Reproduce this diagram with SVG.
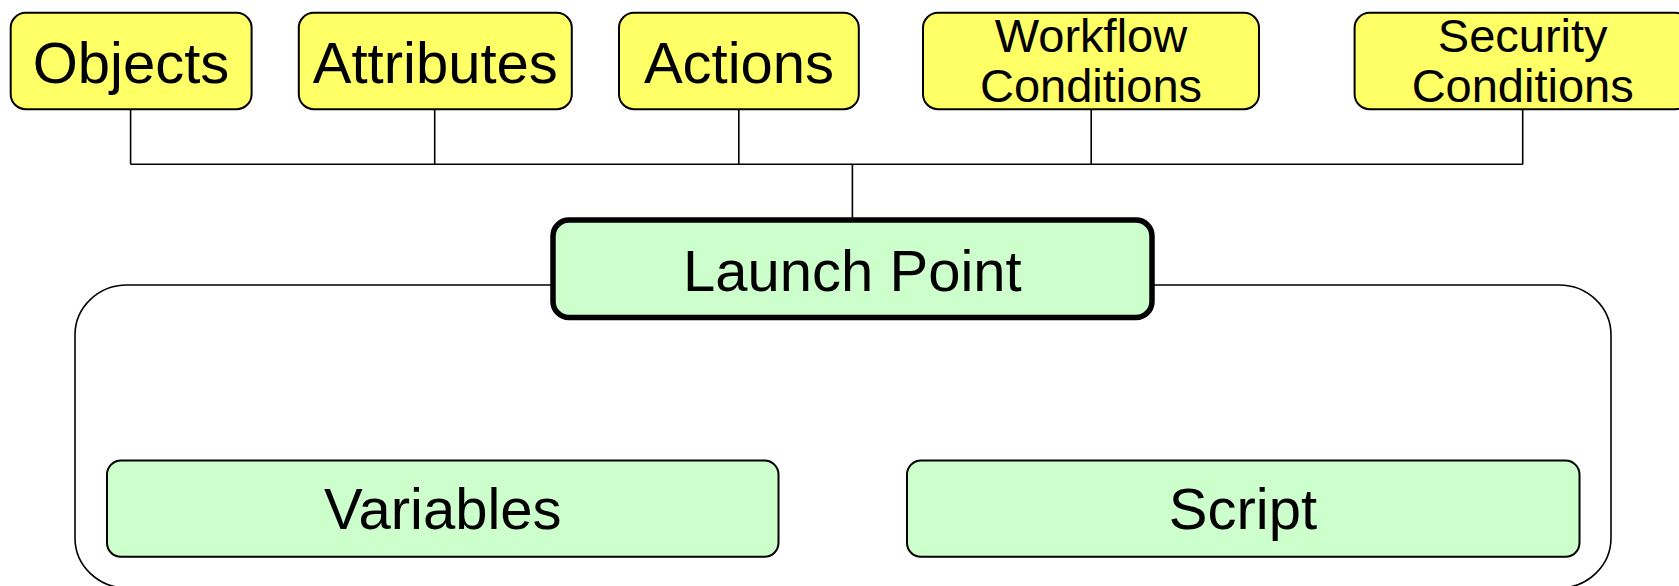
<svg xmlns="http://www.w3.org/2000/svg" width="1679" height="586" viewBox="0 0 1679 586">
<style>
.top{fill:#FFFF66;stroke:#000;stroke-width:2}
.grn{fill:#CCFFCC;stroke:#000;stroke-width:2}
.lp{fill:#CCFFCC;stroke:#000;stroke-width:5.5}
.t{font-family:"Liberation Sans",Arial,sans-serif;fill:#000;text-anchor:middle}
.big{font-size:58px}
.sm{font-size:47px}
.ln{fill:none;stroke:#000;stroke-width:1.6}
</style>
<rect width="1679" height="586" fill="#fff"/>
<g id="container">
<rect x="75" y="285" width="1536" height="303" rx="52" ry="50" class="ln"/>
</g>
<g id="connectors">
<path class="ln" d="M130.6 109V164.3M434.7 109V164.3M738.8 109V164.3M1091.2 109V164.3M1522.7 109V164.3M130.6 164.3H1522.7M852.4 164.3V219"/>
</g>
<g id="objects">
<rect class="top" x="10.7" y="12.8" width="240.9" height="96.4" rx="15"/>
<text class="t big" x="131" y="83">Objects</text>
</g>
<g id="attributes">
<rect class="top" x="298.8" y="12.8" width="273" height="96.4" rx="15"/>
<text class="t big" x="435.3" y="83">Attributes</text>
</g>
<g id="actions">
<rect class="top" x="619" y="12.8" width="239.8" height="96.4" rx="15"/>
<text class="t big" x="739" y="83">Actions</text>
</g>
<g id="workflow">
<rect class="top" x="923" y="12.8" width="336" height="96.4" rx="15"/>
<text class="t sm" x="1091" y="52">Workflow</text>
<text class="t sm" x="1091" y="102">Conditions</text>
</g>
<g id="security">
<rect class="top" x="1354.6" y="12.8" width="336" height="96.4" rx="15"/>
<text class="t sm" x="1522.7" y="52">Security</text>
<text class="t sm" x="1522.7" y="102">Conditions</text>
</g>
<g id="launchpoint">
<rect class="lp" x="553" y="220" width="599" height="97.5" rx="16"/>
<text class="t big" x="852.4" y="290.5">Launch Point</text>
</g>
<g id="variables">
<rect class="grn" x="107" y="460.5" width="671.5" height="96.3" rx="14"/>
<text class="t big" x="442.8" y="529">Variables</text>
</g>
<g id="script">
<rect class="grn" x="907" y="460.5" width="672.5" height="96.3" rx="14"/>
<text class="t big" x="1243" y="529">Script</text>
</g>
</svg>
